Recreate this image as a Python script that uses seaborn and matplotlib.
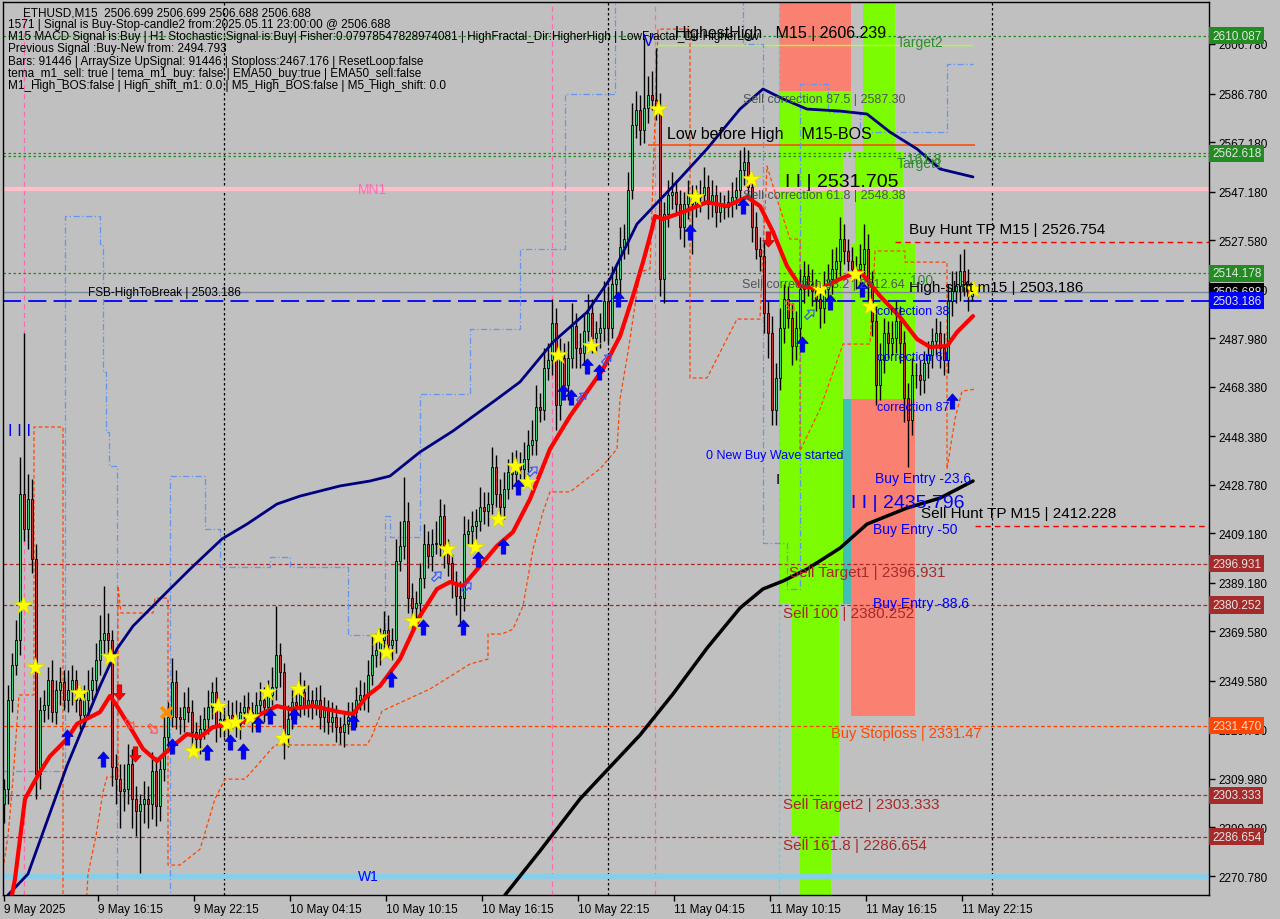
import numpy as np
import pandas as pd
import matplotlib
matplotlib.use("Agg")
import matplotlib.pyplot as plt
import matplotlib.transforms as mtransforms
from matplotlib.path import Path
import seaborn as sns

# ------------------------------------------------------------
# DATA (bar 0 = 9 May 10:15)
# ------------------------------------------------------------
first_open = 2300.0
closes = [
    2306, 2342, 2356, 2366, 2425, 2411, 2423, 2399, 2312, 2338,
    2340, 2350, 2337, 2346, 2349, 2342, 2346, 2350, 2342, 2336,
    2342, 2346, 2350, 2358, 2366, 2369, 2366, 2315, 2310, 2305,
    2306, 2316, 2302, 2297, 2300, 2302, 2300, 2313, 2299, 2314,
    2327, 2335, 2349, 2335, 2334, 2339, 2337, 2329, 2326, 2330,
    2334, 2339, 2345, 2331, 2334, 2332, 2336, 2334, 2332, 2337,
    2339, 2337, 2335, 2340, 2342, 2339, 2344, 2347, 2360, 2353,
    2328, 2334, 2341, 2340, 2345, 2340, 2342, 2340, 2342, 2335,
    2338, 2333, 2335, 2331, 2329, 2332, 2335, 2337, 2342, 2344,
    2343, 2352, 2360, 2362, 2366, 2370, 2364, 2366, 2398, 2404,
    2414, 2383, 2379, 2381, 2391, 2405, 2400, 2405, 2405, 2416,
    2401, 2397, 2389, 2384, 2383, 2409, 2410, 2412, 2414, 2420,
    2418, 2421, 2436, 2425, 2420, 2427, 2434, 2433, 2437, 2435,
    2439, 2445, 2447, 2460, 2459, 2476, 2479, 2494, 2461, 2480,
    2469, 2480, 2493, 2484, 2482, 2491, 2498, 2488, 2490, 2492,
    2503, 2492, 2510, 2512, 2525, 2528, 2548, 2574, 2580, 2572,
    2581, 2586, 2584, 2581, 2512, 2538, 2546, 2547, 2542, 2533,
    2542, 2546, 2542, 2545, 2546, 2549, 2542, 2546, 2539, 2542,
    2541, 2543, 2545, 2548, 2556, 2559, 2549, 2533, 2524, 2521,
    2498, 2490, 2459, 2472, 2492, 2504, 2496, 2485, 2492, 2508,
    2513, 2510, 2507, 2504, 2500, 2508, 2512, 2516, 2519, 2528,
    2523, 2519, 2516, 2514, 2518, 2524, 2510, 2495, 2469, 2479,
    2490, 2486, 2488, 2495, 2486, 2464, 2455, 2473, 2473, 2471,
    2478, 2481, 2487, 2490, 2484, 2479, 2503, 2507, 2509, 2515,
    2510, 2505, 2506.688,
]
wick_up = [
    4, 6, 5, 8, 15, 65, 10, 8, 6, 5,
    6, 5, 8, 4, 6, 5, 8, 6, 4, 5,
    6, 8, 5, 7, 10, 19, 8, 4, 5, 6,
    10, 8, 6, 5, 4, 7, 5, 8, 6, 5,
    8, 6, 10, 5, 4, 6, 8, 5, 4, 6,
    5, 7, 4, 6, 5, 4, 6, 5, 8, 4,
    5, 6, 4, 5, 7, 5, 6, 8, 20, 5,
    4, 6, 5, 4, 8, 5, 6, 4, 5, 6,
    5, 4, 6, 5, 4, 5, 6, 4, 5, 6,
    5, 6, 8, 7, 5, 8, 6, 5, 9, 10,
    18, 8, 6, 5, 6, 8, 5, 6, 9, 7,
    5, 6, 4, 5, 6, 7, 5, 6, 5, 8,
    6, 5, 8, 5, 6, 7, 5, 8, 6, 5,
    7, 6, 8, 9, 6, 8, 7, 10, 6, 8,
    6, 7, 9, 5, 6, 7, 8, 6, 5, 6,
    8, 6, 7, 6, 8, 6, 7, 9, 8, 6,
    28, 8, 10, 21, 6, 5, 6, 8, 5, 6,
    5, 6, 4, 5, 6, 8, 5, 6, 4, 5,
    4, 5, 6, 5, 8, 6, 5, 4, 6, 5,
    6, 5, 7, 6, 8, 6, 5, 6, 7, 8,
    6, 5, 6, 5, 6, 7, 6, 8, 6, 9,
    6, 5, 6, 5, 8, 10, 6, 5, 6, 7,
    6, 5, 7, 8, 6, 5, 6, 7, 5, 6,
    5, 6, 5, 6, 5, 6, 7, 8, 6, 7,
    9, 6, 3,
]
wick_dn = [
    8, 6, 5, 4, 6, 5, 8, 6, 10, 6,
    5, 6, 4, 5, 6, 4, 5, 6, 5, 6,
    5, 6, 4, 5, 6, 5, 6, 8, 10, 15,
    8, 6, 12, 10, 25, 8, 10, 6, 8, 6,
    5, 6, 4, 5, 6, 5, 4, 6, 5, 6,
    4, 6, 5, 6, 4, 5, 6, 4, 5, 6,
    5, 4, 6, 5, 4, 6, 5, 4, 5, 6,
    10, 5, 4, 6, 5, 4, 5, 6, 4, 5,
    6, 5, 4, 6, 5, 6, 4, 5, 6, 4,
    5, 6, 4, 5, 6, 5, 4, 6, 5, 4,
    5, 6, 8, 5, 6, 4, 5, 6, 4, 5,
    6, 5, 6, 8, 10, 5, 4, 6, 5, 4,
    5, 6, 4, 5, 6, 5, 4, 6, 5, 4,
    6, 5, 4, 6, 5, 4, 5, 6, 10, 6,
    5, 6, 4, 8, 6, 5, 4, 6, 5, 6,
    5, 6, 4, 5, 6, 5, 6, 4, 5, 6,
    5, 6, 4, 5, 7, 10, 5, 6, 4, 5,
    8, 6, 20, 5, 6, 4, 6, 5, 6, 4,
    5, 4, 6, 5, 4, 6, 5, 6, 4, 6,
    8, 10, 6, 6, 5, 6, 4, 8, 6, 5,
    6, 5, 6, 5, 8, 6, 5, 6, 5, 6,
    5, 6, 5, 6, 5, 6, 8, 6, 8, 6,
    5, 6, 5, 6, 8, 10, 19, 6, 5, 6,
    5, 6, 5, 6, 8, 6, 5, 6, 5, 6,
    5, 6, 2,
]

# moving averages
fast_bar = [2, 2.75, 5.25, 7, 9, 11.5, 15.75, 18.25, 24, 26.5, 28.25, 32.25, 34.75, 38.25,
            40.75, 45.75, 49, 52.25, 60.75, 68.25, 71.5, 77.25, 84, 87.25, 90.75, 94, 99,
            104, 108.25, 111.5, 114.75, 119, 123.25, 127.25, 131.5, 136.5, 141.5, 149.75,
            154, 157.25, 159.75, 162, 162.75, 164.75, 169.75, 175.75, 180.75, 185.75, 189,
            192.25, 195.75, 199, 204, 209, 214, 219, 224, 228.25, 231.5, 235.75, 238.25, 242.25]
fast_price = [2263.1, 2269.6, 2301.9, 2307.1, 2312.8, 2319.2, 2326.1, 2332.2, 2337.0, 2343.5,
              2339.4, 2328.9, 2322.1, 2317.2, 2321.2, 2328.1, 2326.9, 2330.9, 2333.4, 2339.4,
              2338.2, 2339.4, 2337.0, 2336.2, 2343.5, 2347.5, 2358.4, 2375.8, 2386.7, 2389.5,
              2387.9, 2396.0, 2404.1, 2409.7, 2423.0, 2443.2, 2456.5, 2475.5, 2488.8, 2505.0,
              2518.7, 2532.1, 2537.3, 2536.1, 2538.9, 2542.9, 2541.3, 2545.0, 2541.3, 2530.9,
              2517.1, 2509.0, 2507.8, 2511.9, 2515.1, 2505.0, 2496.5, 2487.6, 2484.4, 2484.8,
              2490.4, 2496.9]
mid_bar = [1, 6, 15.75, 24, 28.25, 32.25, 40.75, 46.5, 54.5, 60.75, 68.25, 74, 84, 91.5, 96.5,
           104, 112.25, 123.25, 129, 137.25, 145.75, 151.5, 158.25, 167.25, 175.75, 184,
           189.75, 194.75, 200.75, 209, 215.75, 221.5, 228.25, 234, 242.25]
mid_price = [2263.1, 2271.6, 2315.3, 2347.5, 2362.5, 2371.7, 2385.5, 2394.7, 2406.9, 2412.9,
             2421.0, 2424.2, 2428.3, 2430.3, 2432.3, 2442.0, 2450.5, 2463.4, 2470.3, 2486.4,
             2498.5, 2511.9, 2534.1, 2549.4, 2564.4, 2580.5, 2588.6, 2584.6, 2580.5, 2579.7,
             2578.5, 2571.2, 2564.4, 2556.3, 2553.1]
slow_bar = [125.25, 134, 144, 151.5, 159, 167.25, 175.75, 184, 189.75, 194.75, 200.75, 209,
            215.75, 225.75, 234, 242.25]
slow_price = [2263.1, 2280.9, 2301.9, 2314.8, 2327.7, 2344.3, 2362.8, 2379.0, 2386.7, 2389.9,
              2394.7, 2403.2, 2412.9, 2419.4, 2423.4, 2430.3]

# stepped channel lines
upper_bar = [-0.25, 15.25, 24, 24.75, 25.5, 26.25, 28.25, 41.5, 50.25, 54, 66.5, 71.5, 86,
             95.25, 96.5, 104, 116.5, 129, 140.25, 152.75, 184.75, 189.75, 195.75, 199, 206,
             214, 235.75, 242.25]
upper_price = [2313.2, 2537.3, 2526.0, 2474.3, 2450.1, 2436.3, 2257.0, 2432.3, 2410.9, 2395.6,
               2399.6, 2395.6, 2368.1, 2416.2, 2407.7, 2465.4, 2491.7, 2524.0, 2586.6, 2633.0,
               2606.8, 2405.3, 2386.7, 2590.6, 2579.3, 2571.2, 2598.7, 2598.7]
lower_bar = [-0.25, 1, 2.25, 3.75, 7.5, 7.5, 14.75, 14.75, 20.5, 21, 23, 24.75, 25.75, 28.5,
             28.5, 29.25, 37.25, 37.75, 41, 41, 44, 49, 52.75, 55.25, 60.25, 67.75, 90.75, 92,
             94.5, 106.5, 116.5, 121, 121, 124.5, 127.25, 129.75, 132.25, 134.75, 136.5, 141.5,
             149, 153.25, 154, 156, 159, 161.5, 163.5, 171.5, 171.5, 175.75, 183.25, 189,
             190.75, 193.25, 196.5, 199, 199, 204, 209.75, 216.5, 217.75, 225.25, 225.25,
             235.75, 235.75, 237.75, 239.5, 242.75]
lower_price = [2273.6, 2286.9, 2309.9, 2343.9, 2343.9, 2452.1, 2452.1, 2257, 2257, 2271.6,
               2286.9, 2304.7, 2310.8, 2310.8, 2387.9, 2377.0, 2377.0, 2383.0, 2383.0, 2275.2,
               2275.2, 2281.6, 2301.9, 2309.9, 2309.9, 2323.7, 2323.7, 2327.3, 2337.4, 2346.3,
               2356.4, 2358.4, 2368.5, 2368.5, 2370.5, 2379.8, 2402.8, 2417.8, 2425.9, 2425.9,
               2435.2, 2443.2, 2463.4, 2482.4, 2514.7, 2515.9, 2612.8, 2612.8, 2471.9, 2471.9,
               2495.7, 2495.7, 2557.5, 2544.2, 2528.0, 2528.0, 2442.4, 2459.4, 2485.6, 2485.6,
               2523.2, 2523.2, 2518.7, 2518.7, 2435.1, 2455.3, 2466.6, 2467.4]

# signal markers (bar, price)
star_bar = [4.75, 7.75, 18.75, 26.5, 47.25, 53.5, 55.75, 57.75, 61.5, 65.75, 69.75, 73.5, 93.5,
            95.5, 102.25, 110.75, 117.75, 123.5, 127.75, 130.75, 138.5, 146.75, 163.5, 172.75,
            186.75, 204, 212.75, 216.5, 242.25]
star_price = [2380.2, 2355.2, 2344.7, 2359.2, 2321.3, 2339.4, 2332.1, 2332.9, 2335.0, 2345.1,
              2326.5, 2346.3, 2367.3, 2361.2, 2373.8, 2402.8, 2403.6, 2414.9, 2436.3, 2429.9,
              2481.2, 2484.8, 2580.5, 2545.0, 2552.3, 2507.8, 2513.9, 2501.0, 2507.8]
buy_bar = [15.75, 24.75, 42, 50.75, 56.5, 59.75, 63.5, 66.5, 72.5, 87.25, 96.75, 104.75, 114.75,
           118.5, 124.75, 128.5, 139.75, 141.75, 145.75, 148.75, 153.5, 171.5, 184.75, 199.5,
           206.5, 214.5, 237]
buy_price = [2326.9, 2318.0, 2323.3, 2320.9, 2324.9, 2321.3, 2332.1, 2335.4, 2335.4, 2332.9,
             2350.3, 2371.3, 2371.3, 2398.8, 2404.0, 2427.9, 2466.2, 2464.2, 2476.7, 2474.3,
             2503.8, 2530.9, 2541.4, 2485.6, 2502.6, 2507.8, 2462.6]
sell_bar = [28.75, 32.75, 191]
sell_price = [2345.1, 2320.0, 2528.0]
hollow_up_bar = [108.25, 115.75, 132.25, 144.5, 150.75, 201.5]
hollow_up_price = [2391.9, 2387.5, 2434.3, 2464.2, 2479.6, 2497.7]
hollow_dn_bar = [31.5, 37.25, 196.5]
hollow_dn_price = [2332.1, 2330.1, 2501.0]
cross_bar = [40.5]
cross_price = [2337.0]

# horizontal levels
level_prices = [2610.087, 2562.618, 2561.4, 2514.178, 2548.2, 2506.688, 2503.186,
                2396.931, 2380.252, 2331.470, 2303.333, 2286.654, 2270.8]
box_prices = [2610.087, 2562.618, 2514.178, 2506.688, 2503.186, 2396.931, 2380.252,
              2331.470, 2303.333, 2286.654]
box_colors = ["#228b22", "#228b22", "#228b22", "#000000", "#0000ff", "#a52a2a", "#a52a2a",
              "#ff4500", "#a52a2a", "#a52a2a"]
buy_hunt_tp = 2526.754
sell_hunt_tp = 2412.228
low_before_high = 2566.0
highest_high = 2606.239

# shaded zones: bar from, bar to, price low, price high
zone_b0 = [193.75, 193.75, 193.75, 214.75, 212.75, 211.75, 209.75, 211.75, 197, 199]
zone_b1 = [211.75, 211.75, 209.75, 222.75, 224.75, 227.75, 211.75, 227.75, 208.75, 206.75]
zone_lo = [2587.8, 2563.2, 2380.6, 2563.2, 2526.0, 2463.4, 2380.6, 2335.3, 2286.8, 2250.0]
zone_hi = [2630.0, 2587.8, 2563.2, 2630.0, 2563.2, 2526.0, 2463.4, 2463.4, 2380.6, 2286.8]
zone_kind = ["sell", "buy", "buy", "buy", "buy", "buy", "teal", "sell", "buy", "buy"]

day_breaks = [55, 151, 247]
pink_marks = [5, 137, 162.75]
cyan_mark = 193.75

tick_prices = [2606.780, 2586.780, 2567.180, 2547.180, 2527.580, 2507.780, 2487.980, 2468.380,
               2448.380, 2428.780, 2409.180, 2389.180, 2369.580, 2349.580, 2329.780, 2309.980,
               2290.380, 2270.780]
time_ticks = [0, 23.5, 47.5, 71.5, 95.5, 119.5, 143.5, 167.5, 191.5, 215.5, 239.5]
time_labels = ["9 May 2025", "9 May 16:15", "9 May 22:15", "10 May 04:15", "10 May 10:15",
               "10 May 16:15", "10 May 22:15", "11 May 04:15", "11 May 10:15", "11 May 16:15",
               "11 May 22:15"]

info_lines = [
    "1571 | Signal is Buy-Stop-candle2 from:2025.05.11 23:00:00 @ 2506.688",
    "M15 MACD Signal is:Buy | H1 Stochastic Signal is:Buy| Fisher:0.07978547828974081 | "
    "HighFractal_Dir:HigherHigh | LowFractal_Dir:HigherLow",
    "Previous Signal :Buy-New from: 2494.793",
    "Bars: 91446 | ArraySize UpSignal: 91446 | Stoploss:2467.176 | ResetLoop:false",
    "tema_m1_sell: true | tema_m1_buy: false | EMA50_buy:true | EMA50_sell:false",
    "M1_High_BOS:false | High_shift_m1: 0.0 | M5_High_BOS:false | M5_High_shift: 0.0",
]

BG = "#c0c0c0"
GREEN_TXT = "#2e8b2e"
BROWN = "#a52a2a"
BLUE = "#0000ff"
GRAYTXT = "#4d5555"

# text objects on the chart: label, bar, price, colour, size
chart_texts = [
    ("V", 159.75, 2608.0, BLUE, 12),
    ("HighestHigh   M15 | 2606.239", 167.75, 2611.6, "black", 11.5),
    ("Target2", 223.25, 2607.6, GREEN_TXT, 10),
    ("Sell correction 87.5 | 2587.30", 184.75, 2584.6, GRAYTXT, 9),
    ("Low before High    M15-BOS", 165.75, 2570.8, "black", 11.5),
    ("161.8", 225.75, 2560.3, GREEN_TXT, 10),
    ("Target1", 223.25, 2558.7, GREEN_TXT, 10),
    ("MN1", 88.5, 2548.2, "#ff69b4", 10),
    ("I I | 2531.705", 195.25, 2551.1, "black", 14),
    ("Sell correction 61.8 | 2548.38", 184.75, 2545.8, GRAYTXT, 9),
    ("Buy Hunt TP M15 | 2526.754", 226.25, 2532.1, "black", 11),
    ("FSB-HighToBreak | 2503.186", 21, 2506.6, "black", 8.5),
    ("Sell correction 38.2 | 2512.64", 184.5, 2509.9, GRAYTXT, 9),
    ("100", 226.5, 2511.5, GREEN_TXT, 10),
    ("High-shift m15 | 2503.186", 226.25, 2508.6, "black", 11),
    ("correction 38", 218.25, 2498.9, BLUE, 9),
    ("correction 61", 218.25, 2480.4, BLUE, 9),
    ("correction 87", 218.25, 2460.2, BLUE, 9),
    ("0 New Buy Wave started", 175.5, 2440.8, BLUE, 9),
    ("I", 193, 2431.1, "black", 11),
    ("Buy Entry -23.6", 217.75, 2431.5, BLUE, 10),
    ("I I | 2435.796", 211.75, 2421.8, BLUE, 14),
    ("Sell Hunt TP M15 | 2412.228", 229.25, 2417.4, "black", 11),
    ("Buy Entry -50", 217.25, 2410.9, BLUE, 10),
    ("Sell Target1 | 2396.931", 196.25, 2393.5, BROWN, 11),
    ("Buy Entry -88.6", 217.25, 2381.0, BLUE, 10),
    ("Sell 100 | 2380.252", 194.75, 2377.0, BROWN, 11),
    ("Buy Stoploss | 2331.47", 206.75, 2328.5, "#ff4500", 10.5),
    ("Sell Target2 | 2303.333", 194.75, 2299.8, BROWN, 11),
    ("Sell 161.8 | 2286.654", 194.75, 2283.3, BROWN, 11),
    ("W1", 88.5, 2270.8, BLUE, 10),
    ("I I I", 1, 2450.5, BLUE, 12),
]

# ------------------------------------------------------------
# FIGURE
# ------------------------------------------------------------
sns.set_style("white", {"axes.facecolor": BG, "figure.facecolor": BG})
plt.rcParams["font.family"] = ["Liberation Sans", "DejaVu Sans"]

fig = plt.figure(figsize=(12.8, 9.2), dpi=100, facecolor=BG)
ax = fig.add_axes([3 / 1280, 24 / 920, 1206 / 1280, 893 / 920])
ax.set_facecolor(BG)
ax.set_xlim(-0.25, 301.25)
ax.set_ylim(2263.11, 2623.74)

# zones
zone_colors = {"buy": "#7cfc00", "sell": "#fa8072", "teal": "#42beb4"}
for b0, b1, lo, hi, kind in zip(zone_b0, zone_b1, zone_lo, zone_hi, zone_kind):
    ax.fill_between([b0, b1], lo, hi, color=zone_colors[kind], lw=0, zorder=0.5)

# vertical separators
for b in day_breaks:
    ax.axvline(b, color="black", lw=0.9, ls=(0, (2, 2)), zorder=1)
for b in pink_marks:
    ax.axvline(b, color="#ff69b4", lw=0.9, ls=(0, (4, 3)), zorder=1)
ax.axvline(cyan_mark, color="#40e0f0", lw=0.9, ls=(0, (3, 2)), zorder=1)

# horizontal levels
level_styles = [
    dict(color="#228b22", lw=0.9, ls=(0, (2, 2))),
    dict(color="#228b22", lw=0.9, ls=(0, (2, 2))),
    dict(color="#228b22", lw=0.9, ls=(0, (2, 2))),
    dict(color="#228b22", lw=0.9, ls=(0, (2, 2))),
    dict(color="#ffc0cb", lw=3.0, ls="-"),
    dict(color="#778899", lw=1.0, ls="-"),
    dict(color="#0000ff", lw=1.3, ls=(0, (10, 4))),
    dict(color=BROWN, lw=0.9, ls=(0, (3, 2))),
    dict(color=BROWN, lw=0.9, ls=(0, (3, 2))),
    dict(color="#ff4500", lw=0.9, ls=(0, (3, 2))),
    dict(color=BROWN, lw=0.9, ls=(0, (3, 2))),
    dict(color=BROWN, lw=0.9, ls=(0, (3, 2))),
    dict(color="#87ceeb", lw=3.5, ls="-"),
]
for p, st in zip(level_prices, level_styles):
    ax.axhline(p, zorder=1.2, **st)

ax.hlines(buy_hunt_tp, 222.75, 301.25, color="#ff0000", lw=1, ls=(0, (4, 3)), zorder=1.2)
ax.hlines(sell_hunt_tp, 242.75, 301.25, color="#ff0000", lw=1, ls=(0, (4, 3)), zorder=1.2)
ax.hlines(low_before_high, 161, 242.75, color="#ff4500", lw=1.1, zorder=1.2)
ax.hlines(highest_high, 162.75, 242.25, color="#adff2f", lw=1, zorder=1.2)

# stepped channel
ax.plot(upper_bar, upper_price, drawstyle="steps-post", color="#6495ed", lw=0.9,
        ls=(0, (5, 2, 1, 2)), zorder=1.5)
ax.plot(lower_bar, lower_price, color="#ff4500", lw=0.9, ls=(0, (3, 2)), zorder=1.5)

# candles
closes_a = np.array(closes, dtype=float)
opens_a = np.r_[first_open, closes_a[:-1]]
highs_a = np.maximum(opens_a, closes_a) + np.array(wick_up)
lows_a = np.minimum(opens_a, closes_a) - np.array(wick_dn)
bars = np.arange(len(closes_a))
ax.vlines(bars, lows_a, highs_a, color="black", lw=1, zorder=2)
up = closes_a >= opens_a
ax.bar(bars[up], np.maximum(closes_a - opens_a, 0.3)[up], bottom=opens_a[up], width=0.62,
       color="#3ccf7a", edgecolor="black", lw=0.6, zorder=2.1)
ax.bar(bars[~up], (opens_a - closes_a)[~up], bottom=closes_a[~up], width=0.62,
       color="#c83232", edgecolor="black", lw=0.6, zorder=2.1)

# moving averages
sns.lineplot(x=slow_bar, y=slow_price, ax=ax, color="black", lw=2.5, estimator=None,
             sort=False, legend=False, zorder=3)
sns.lineplot(x=mid_bar, y=mid_price, ax=ax, color="#000080", lw=2, estimator=None,
             sort=False, legend=False, zorder=3)
sns.lineplot(x=fast_bar, y=fast_price, ax=ax, color="#ff0000", lw=3, estimator=None,
             sort=False, legend=False, zorder=3.1)

# markers
arrow_up = Path([(0, 1), (0.75, 0.15), (0.3, 0.15), (0.3, -1), (-0.3, -1), (-0.3, 0.15),
                 (-0.75, 0.15), (0, 1)], closed=True)
arrow_dn = mtransforms.Affine2D().scale(1, -1).transform_path(arrow_up)
arrow_ur = mtransforms.Affine2D().rotate_deg(-45).transform_path(arrow_up)
arrow_dr = mtransforms.Affine2D().rotate_deg(-135).transform_path(arrow_up)

sns.scatterplot(x=star_bar, y=star_price, ax=ax, marker="*", s=190, color="#ffff00",
                edgecolor="#d8d800", linewidth=0.5, zorder=4, legend=False)
ax.scatter(buy_bar, buy_price, marker=arrow_up, s=120, color="#0000ff", edgecolor="#0000b0",
           lw=0.5, zorder=4.1)
ax.scatter(sell_bar, sell_price, marker=arrow_dn, s=120, color="#ff0000", edgecolor="#b00000",
           lw=0.5, zorder=4.1)
ax.scatter(hollow_up_bar, hollow_up_price, marker=arrow_ur, s=60, facecolor="none",
           edgecolor="#3050ff", lw=0.8, zorder=4.1)
ax.scatter(hollow_dn_bar, hollow_dn_price, marker=arrow_dr, s=60, facecolor="none",
           edgecolor="#ff5050", lw=0.8, zorder=4.1)
ax.scatter(cross_bar, cross_price, marker="x", s=60, color="#ff8c00", lw=2.5, zorder=4.1)

# chart texts
for label, b, p, col, size in chart_texts:
    ax.text(b, p, label, color=col, fontsize=size, ha="left", va="center", zorder=5,
            clip_on=False)

# right-hand price boxes
trans = mtransforms.blended_transform_factory(ax.transAxes, ax.transData)
for p, fc in zip(box_prices, box_colors):
    ax.text(1.0 + 3 / 1206, p, f"{p:.3f}", transform=trans, fontsize=8.5, color="#e6e6e6",
            ha="left", va="center", clip_on=False, zorder=10,
            bbox=dict(boxstyle="square,pad=0.22", fc=fc, ec="none"))

# info block at top-left
fig.text(23 / 1280, 1 - 13 / 920, "ETHUSD,M15  2506.699 2506.699 2506.688 2506.688",
         fontsize=8.5, color="black", va="center", ha="left")
for k, line in enumerate(info_lines):
    fig.text(8 / 1280, 1 - (25 + 12.2 * k) / 920, line, fontsize=8.5, color="black",
             va="center", ha="left")

# axes
ax.yaxis.tick_right()
ax.set_yticks(tick_prices)
ax.set_yticklabels([f"{t:.3f}" for t in tick_prices])
ax.set_xticks(time_ticks)
ax.set_xticklabels(time_labels)
for lab in ax.get_xticklabels():
    lab.set_horizontalalignment("left")
ax.tick_params(axis="y", direction="out", length=4, width=1, colors="black",
               labelsize=8.5, pad=3, right=True, left=False)
ax.tick_params(axis="x", direction="out", length=4, width=1, colors="black",
               labelsize=8.5, pad=2, bottom=True)
ax.set_xlabel("")
ax.set_ylabel("")
for side in ["left", "right", "top", "bottom"]:
    ax.spines[side].set_visible(True)
    ax.spines[side].set_color("black")
    ax.spines[side].set_linewidth(1)
ax.grid(False)

fig.savefig("out.png", dpi=100, facecolor=BG)
